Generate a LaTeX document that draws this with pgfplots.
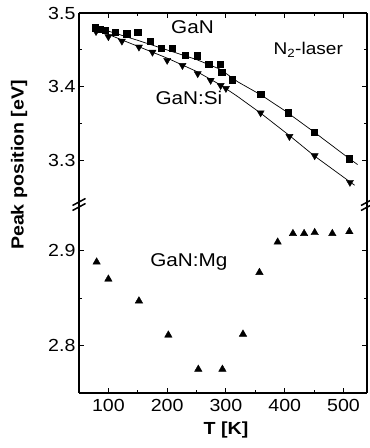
\documentclass[border=0pt]{standalone}
\usepackage{fontspec}
\setmainfont[FakeStretch=1.12]{Liberation Sans}
\usepackage{pgfplots}
\usepackage{pgfplotstable}
\pgfplotsset{compat=1.18}

\pgfplotstableread{
T E
78 3.480
86 3.478
95 3.477
112 3.474
131 3.472
150 3.474
171 3.462
190 3.452
209 3.452
231 3.443
251 3.442
271 3.431
290 3.431
293 3.420
311 3.410
359 3.390
406 3.365
450 3.339
510 3.303
}\gan

\pgfplotstableread{
T E
79 3.475
100 3.468
123 3.462
152 3.454
175 3.447
200 3.436
226 3.429
252 3.418
274 3.409
291 3.402
300 3.398
359 3.365
408 3.333
451 3.307
511 3.271
}\gansi

\pgfplotstableread{
T E
80 2.888
100 2.870
152 2.847
202 2.811
253 2.775
294 2.775
329 2.812
357 2.877
388 2.909
414 2.918
433 2.918
451 2.919
481 2.918
510 2.920
}\ganmg

\pgfplotstableread{
T E
78 3.481
150 3.463
200 3.450
250 3.437
290 3.424
320 3.407
360 3.389
400 3.368
450 3.339
510 3.303
524 3.295
}\ganfit

\pgfplotstableread{
T E
78 3.478
150 3.455
200 3.439
250 3.421
290 3.403
320 3.387
360 3.364
410 3.333
450 3.307
519 3.267
}\gansifit

\begin{document}
\begin{tikzpicture}
\useasboundingbox (0,0) rectangle (370pt,448pt);
\pgfplotsset{
  every axis/.append style={
    scale only axis, width=288pt,
    xmin=50, xmax=540,
    tick align=inside,
    major tick length=5pt, minor tick length=3pt,
    axis line style={line width=1.4pt},
    every tick/.style={line width=1pt, black},
    xtick={100,200,300,400,500},
    minor xtick={150,250,350,450},
    tick label style={font=\fontsize{17.5}{17.5}\selectfont},
    /pgf/number format/assume math mode=true,
    yticklabel style={/pgf/number format/fixed, /pgf/number format/precision=1, /pgf/number format/fixed zerofill},
    clip=false,
  }
}
% upper panel
\begin{axis}[
  at={(79pt,243.5pt)}, anchor=south west, height=191.5pt,
  ymin=3.241, ymax=3.5,
  axis x line*=top, axis y line*=box,
  xticklabels={},
  ytick={3.3,3.4,3.5}, minor ytick={3.35,3.45},
]
\addplot[black, line width=0.7pt] table[x=T,y=E]{\gansifit};
\addplot[black, line width=0.7pt] table[x=T,y=E]{\ganfit};
\addplot[only marks, mark=square*, mark size=3.2pt, black] table[x=T,y=E]{\gan};
\addplot[only marks, mark=triangle*, mark size=4.1pt, black, mark options={rotate=180}] table[x=T,y=E]{\gansi};
\node[font=\fontsize{18.5}{18.5}\selectfont] at (axis cs:243,3.481) {GaN};
\node[font=\fontsize{17}{17}\selectfont] at (axis cs:440,3.450) {N\textsubscript{2}-laser};
\node[font=\fontsize{18.5}{18.5}\selectfont] at (axis cs:237,3.385) {GaN:Si};
\end{axis}
% lower panel
\begin{axis}[
  at={(79pt,55pt)}, anchor=south west, height=188.5pt,
  ymin=2.75, ymax=2.9486,
  axis x line*=bottom, axis y line*=box,
  ytick={2.8,2.9}, minor ytick={2.85},
  xticklabel style={yshift=-3pt},
]
\addplot[only marks, mark=triangle*, mark size=4.3pt, black] table[x=T,y=E]{\ganmg};
\node[font=\fontsize{18.5}{18.5}\selectfont] at (axis cs:237,2.888) {GaN:Mg};
\end{axis}
% axis break marks
\fill[white] (73pt,240pt) rectangle (86pt,247pt);
\draw[line width=1.4pt] (79pt,238pt) -- (79pt,250pt);
\draw[line width=1.5pt] (72.5pt,237.5pt) -- (85.5pt,244.5pt);
\draw[line width=1.5pt] (72.5pt,242.5pt) -- (85.5pt,249.5pt);
\draw[line width=1.4pt] (367pt,238pt) -- (367pt,250pt);
\draw[line width=1.5pt] (361pt,237.5pt) -- (374pt,244.5pt);
\draw[line width=1.5pt] (361pt,242.5pt) -- (374pt,249.5pt);
% axis labels
\node[rotate=90, font=\bfseries\fontsize{17.5}{17.5}\selectfont] at (19pt,283pt) {Peak position [eV]};
\node[font=\bfseries\fontsize{17.5}{17.5}\selectfont] at (226pt,18pt) {T [K]};
\end{tikzpicture}
\end{document}
